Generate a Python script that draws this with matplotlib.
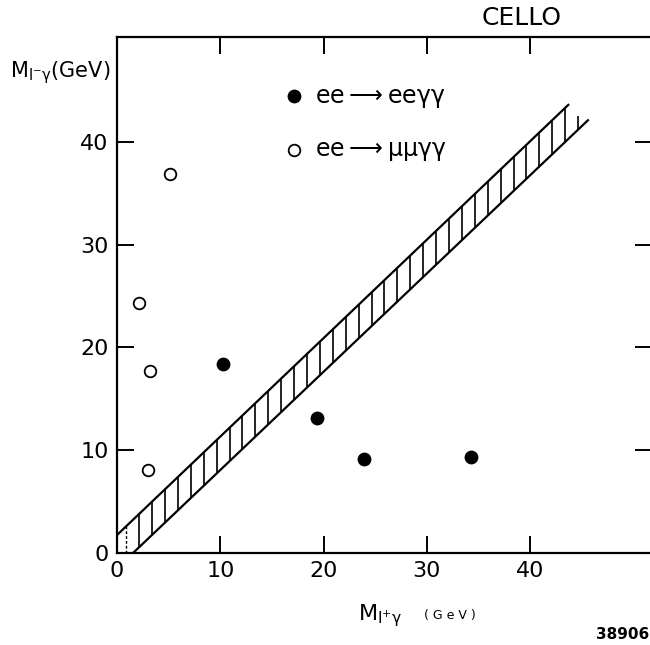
import numpy as np
import matplotlib
matplotlib.use('Agg')
import matplotlib.pyplot as plt

plt.rcParams['font.family'] = ['DejaVu Sans']
plt.rcParams['mathtext.fontset'] = 'custom'
plt.rcParams['mathtext.rm'] = 'DejaVu Sans'
plt.rcParams['mathtext.it'] = 'DejaVu Sans'

# ee -> ee gamma gamma (filled)
ee_x = [10.3, 19.4, 23.9, 34.3]
ee_y = [18.4, 13.1, 9.1, 9.3]
# ee -> mu mu gamma gamma (open)
mm_x = [3.0, 3.2, 2.1, 5.1]
mm_y = [8.1, 17.7, 24.3, 36.9]

# hatched band edges
band_up_x = [0.0, 43.7]
band_up_y = [1.75, 43.6]
band_lo_x = [1.55, 45.6]
band_lo_y = [0.0, 42.1]

xticks = [0, 10, 20, 30, 40]
yticks = [0, 10, 20, 30, 40]

fig = plt.figure(figsize=(6.5, 6.45), dpi=100)
ax = fig.add_axes([0.18, 0.1426, 0.823, 0.80])

# band
ax.plot(band_up_x, band_up_y, color='black', lw=1.6)
ax.plot(band_lo_x, band_lo_y, color='black', lw=1.6)
hx = np.arange(0.9, 44.8, 1.25)
lo = np.interp(hx, band_lo_x, band_lo_y)
up = np.interp(hx, band_up_x, band_up_y, right=np.nan)
up = np.where(np.isnan(up), lo + 1.3, up)
ax.vlines(hx[1:], lo[1:], up[1:], color='black', lw=1.2)
ax.vlines(hx[:1], lo[:1], up[:1], color='black', lw=1.0, linestyles=(0, (2, 1.5)))

ax.scatter(ee_x, ee_y, s=80, color='black', zorder=3,
           label=r'ee$\longrightarrow$eeγγ')
ax.scatter(mm_x, mm_y, s=70, facecolor='white', edgecolor='black',
           linewidth=1.3, zorder=3, label=r'ee$\longrightarrow$μμγγ')

leg = ax.legend(loc='upper left', bbox_to_anchor=(0.27, 0.951), frameon=False,
                fontsize=17, handletextpad=0.35, labelspacing=1.17,
                scatterpoints=1, handlelength=1.0)

ax.set_xlim(0, 51.8)
ax.set_ylim(0, 50.2)
ax.set_xticks(xticks)
ax.set_yticks(yticks)
ax.tick_params(direction='in', length=12, width=1.4, top=True, right=True,
               labelsize=16, pad=6)
for s in ax.spines.values():
    s.set_linewidth(1.6)

fig.text(0.015, 0.888, r'M$_{\mathrm{l}^{-}\mathrm{γ}}$(GeV)', fontsize=15,
         va='center', ha='left')
fig.text(0.55, 0.045, r'M$_{\mathrm{l}^{+}\mathrm{γ}}$', fontsize=16,
         va='center', ha='left')
fig.text(0.653, 0.045, '( G e V )', fontsize=9, va='center', ha='left')
fig.text(0.999, 0.016, '38906', fontsize=11, fontweight='bold',
         va='center', ha='right')
fig.text(0.802, 0.972, 'CELLO', fontsize=18, va='center', ha='center')

fig.savefig('out.png', dpi=100)
